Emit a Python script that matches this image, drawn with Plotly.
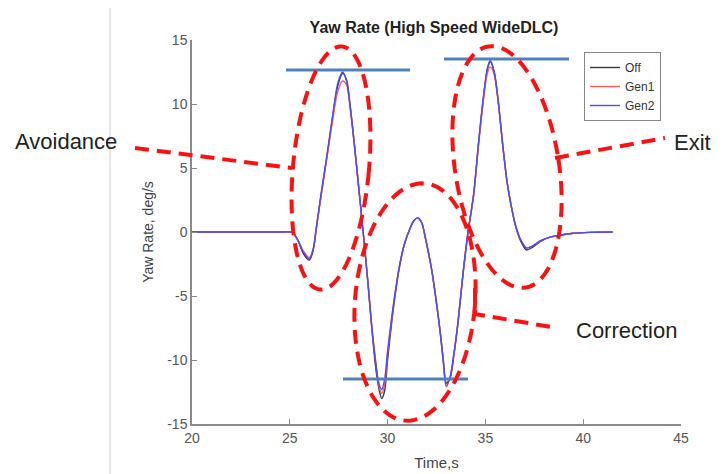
import numpy as np
import plotly.graph_objects as go

# ---------------- data ----------------
time_s = [20.0, 24.5, 25.0, 25.15, 25.4, 25.7, 26.0, 26.2, 26.35, 26.6, 26.9, 27.2, 27.45, 27.7,
          27.9, 28.1, 28.3, 28.5, 28.75, 29.0, 29.2, 29.4, 29.55, 29.7, 29.85, 30.0, 30.2, 30.4,
          30.6, 30.85, 31.15, 31.35, 31.55, 31.75, 31.95, 32.1, 32.27, 32.5, 32.7, 32.85, 33.0,
          33.2, 33.4, 33.6, 33.85, 34.1, 34.4, 34.65, 34.9, 35.1, 35.25, 35.45, 35.65, 35.9,
          36.1, 36.3, 36.55, 36.8, 37.1, 37.4, 37.8, 38.3, 38.8, 39.5, 40.3, 41.5]

yaw_off = [0, 0, 0, -0.05, -0.6, -1.7, -2.2, -1.4, 0.2, 2.9, 5.9, 9.1, 11.4, 12.4,
           11.9, 9.7, 6.9, 3.9, 0.0, -4.1, -7.7, -10.7, -12.2, -13.0, -12.4, -10.0, -7.2, -4.8,
           -2.8, -1.0, 0.3, 0.9, 1.1, 0.7, -0.6, -1.7, -3.1, -5.5, -7.9, -10.0, -11.8,
           -11.4, -9.5, -7.1, -3.4, -0.2, 2.9, 6.9, 10.5, 12.7, 13.3, 12.5, 10.3, 6.6,
           4.0, 2.2, 0.4, -0.7, -1.4, -1.2, -0.75, -0.4, -0.25, -0.1, -0.03, 0]

yaw_gen1 = [0, 0, 0, -0.05, -0.6, -1.5, -2.0, -1.3, 0.2, 2.8, 5.8, 8.8, 11.0, 11.8,
            11.5, 9.5, 6.8, 3.8, 0.0, -4.0, -7.5, -10.2, -12.0, -12.6, -11.9, -9.5, -6.9, -4.6,
            -2.7, -1.0, 0.3, 0.9, 1.1, 0.7, -0.6, -1.7, -3.1, -5.6, -8.0, -10.2, -12.1,
            -11.3, -9.4, -7.0, -3.3, -0.1, 2.9, 6.8, 10.3, 12.4, 12.9, 12.3, 10.2, 6.6,
            4.0, 2.2, 0.5, -0.6, -1.25, -1.1, -0.7, -0.4, -0.25, -0.1, -0.03, 0]

yaw_gen2 = [0, 0, 0, -0.05, -0.6, -1.6, -2.1, -1.3, 0.3, 3.0, 6.0, 9.2, 11.6, 12.5,
            11.8, 9.6, 6.8, 3.8, 0.0, -4.0, -7.5, -10.3, -11.8, -12.3, -11.5, -9.3, -6.8, -4.6,
            -2.7, -1.0, 0.3, 0.9, 1.1, 0.7, -0.6, -1.7, -3.1, -5.6, -8.0, -10.2, -12.0,
            -11.3, -9.4, -7.0, -3.3, -0.1, 3.0, 7.0, 10.6, 12.8, 13.4, 12.5, 10.3, 6.6,
            4.0, 2.2, 0.5, -0.6, -1.25, -1.1, -0.7, -0.4, -0.25, -0.1, -0.03, 0]

series_names = ["Off", "Gen1", "Gen2"]
x_ticks = [20, 25, 30, 35, 40, 45]
x_tick_labels = ["20", "25", "30", "35", "40", "45"]
y_ticks = [-15, -10, -5, 0, 5, 10, 15]
y_tick_labels = ["-15", "-10", "-5", "0", "5", "10", "15"]

# ---------------- layout geometry (pixels in the reference) ----------------
W, H = 727, 474
BODY = 8                              # default page margin around the plot div
PL, PR, PT, PB = 192, 681, 40, 424   # plot area edges in reference pixels
FONT = "Liberation Sans, Arial, sans-serif"


def px(xp):
    return (xp - PL) / (PR - PL)


def py(yp):
    return (PB - yp) / (PB - PT)


def ellipse_path(cx, cy, a, b, theta_deg):
    th = np.radians(theta_deg)
    t = np.linspace(0, 2 * np.pi, 121)
    u, v = a * np.cos(t), b * np.sin(t)
    xs = cx + u * np.cos(th) - v * np.sin(th)
    ys = cy + u * np.sin(th) + v * np.cos(th)
    pts = [f"{px(x):.5f},{py(y):.5f}" for x, y in zip(xs, ys)]
    return "M " + " L ".join(pts) + " Z"


def poly_path(points):
    pts = [f"{px(x):.5f},{py(y):.5f}" for x, y in points]
    return "M " + " L ".join(pts)


fig = go.Figure()
colors = ["#3a3a3a", "#ff5a5a", "#4a4aff"]
for name, ys, c in zip(series_names, [yaw_off, yaw_gen1, yaw_gen2], colors):
    fig.add_trace(go.Scatter(x=time_s, y=ys, mode="lines", name=name,
                             line=dict(color=c, width=1.4, shape="spline", smoothing=0.8)))

RED = dict(color="#ff1010", width=4, dash="14px,8px")
BLUE = dict(color="#4f81bd", width=3)
shapes = [
    # slide separator
    dict(type="line", xref="paper", yref="paper", x0=px(110), x1=px(110), y0=py(3), y1=py(480),
         line=dict(color="#dcdcdc", width=1.5)),
    # blue reference lines
    dict(type="line", xref="paper", yref="paper", x0=px(286), x1=px(410), y0=py(70), y1=py(70), line=BLUE),
    dict(type="line", xref="paper", yref="paper", x0=px(444), x1=px(569), y0=py(59), y1=py(59), line=BLUE),
    dict(type="line", xref="paper", yref="paper", x0=px(343), x1=px(468), y0=py(379), y1=py(379), line=BLUE),
    # red dashed ellipses
    dict(type="path", xref="paper", yref="paper", path=ellipse_path(331, 168, 38, 122, 5.2), line=RED),
    dict(type="path", xref="paper", yref="paper", path=ellipse_path(415, 302, 60, 119, 4.8), line=RED),
    dict(type="path", xref="paper", yref="paper", path=ellipse_path(507, 167, 52, 122, -8.7), line=RED),
    # pointer lines
    dict(type="path", xref="paper", yref="paper", path=poly_path([(135, 148), (292, 168)]), line=RED),
    dict(type="path", xref="paper", yref="paper", path=poly_path([(555, 158), (665, 138)]), line=RED),
    dict(type="path", xref="paper", yref="paper", path=poly_path([(475, 288), (475, 314), (557, 328)]), line=RED),
]

label_font = dict(family=FONT, size=22, color="#222222")
annotations = [
    dict(text="Avoidance", x=px(66), y=py(141), xref="paper", yref="paper", showarrow=False,
         font=label_font, xanchor="center", yanchor="middle"),
    dict(text="Exit", x=px(692), y=py(142), xref="paper", yref="paper", showarrow=False,
         font=label_font, xanchor="center", yanchor="middle"),
    dict(text="Correction", x=px(626), y=py(330), xref="paper", yref="paper", showarrow=False,
         font=label_font, xanchor="center", yanchor="middle"),
]

axis_common = dict(showline=True, linecolor="#8a8a8a", linewidth=1.5, ticks="inside", ticklen=5,
                   tickcolor="#8a8a8a", showgrid=False, zeroline=False, mirror=False, automargin=False,
                   tickfont=dict(family=FONT, size=14, color="#555555"))

fw, fh = W - BODY, H
fig.update_layout(
    width=fw, height=fh,
    margin=dict(l=PL - BODY, r=fw - (PR - BODY), t=PT - BODY, b=fh - (PB - BODY)),
    paper_bgcolor="white", plot_bgcolor="white",
    title=dict(text="<b>Yaw Rate (High Speed WideDLC)</b>", x=px(434), xref="paper", xanchor="center",
               y=1 - (27 - BODY) / fh, yref="container", yanchor="middle",
               font=dict(family=FONT, size=16, color="#222222")),
    xaxis=dict(range=[20, 45], tickvals=x_ticks, ticktext=x_tick_labels, **axis_common,
               title=dict(text="Time,s", standoff=13, font=dict(family=FONT, size=15, color="#444444"))),
    yaxis=dict(range=[-15, 15], tickvals=y_ticks, ticktext=y_tick_labels, **axis_common,
               title=dict(text="Yaw Rate, deg/s", standoff=10, font=dict(family=FONT, size=14, color="#444444"))),
    legend=dict(x=px(584), y=py(52), xanchor="left", yanchor="top", bgcolor="white",
                bordercolor="#888888", borderwidth=1,
                font=dict(family=FONT, size=12, color="#333333"), tracegroupgap=0),
    shapes=shapes,
    annotations=annotations,
    showlegend=True,
)

fig.write_html("out.html")
